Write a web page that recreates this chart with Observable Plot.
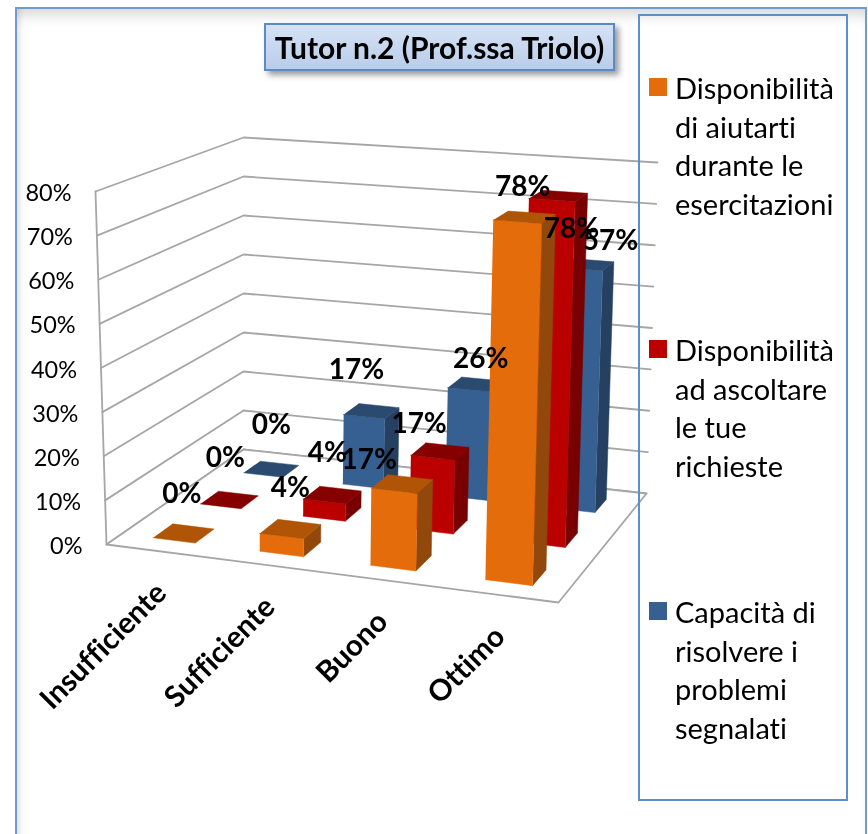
<!DOCTYPE html>
<html>
<head>
<meta charset="utf-8">
<script src="https://cdn.jsdelivr.net/npm/d3@7"></script>
<script src="https://cdn.jsdelivr.net/npm/@observablehq/plot@0.6"></script>
<style>
html,body{margin:0;padding:0;background:#fff;}
#page{position:relative;width:868px;height:834px;overflow:hidden;font-family:Lato,sans-serif;font-variant-ligatures:none;filter:blur(.4px);}
#frame{position:absolute;left:15px;top:7px;width:852px;height:860px;border:2px solid #6f9bd0;box-sizing:border-box;
  box-shadow:inset 0 14px 14px -8px rgba(0,0,0,.16),inset 7px 0 7px -5px rgba(0,0,0,.14);}
#chart{position:absolute;left:0;top:0;}
#chart text{font-variant-ligatures:none;}
#legendbox{position:absolute;left:638px;top:14px;width:210px;height:787px;border:2px solid #5f8fca;box-sizing:border-box;}
#title{position:absolute;left:264px;top:23px;width:351px;height:48px;box-sizing:border-box;border:2px solid #5b8bc7;
  background:linear-gradient(#d6e2f4,#b9cdea);box-shadow:4px 4px 6px rgba(0,0,0,.4);
  font-weight:700;font-size:30px;line-height:44px;text-align:center;color:#000;white-space:nowrap;}
.sw{position:absolute;left:649px;width:18px;height:18px;}
.lg{position:absolute;left:675px;font-size:29px;line-height:38.7px;color:#000;white-space:pre;}
</style>
</head>
<body>
<div id="page">
  <div id="frame"></div>
  <div id="chart"></div>
  <div id="legendbox"></div>
  <div id="title">Tutor n.2 (Prof.ssa Triolo)</div>
  <div id="legend"></div>
</div>
<script>
const categories = ["Insufficiente", "Sufficiente", "Buono", "Ottimo"];
const seriesNames = [
  "Disponibilità di aiutarti durante le esercitazioni",
  "Disponibilità ad ascoltare le tue richieste",
  "Capacità di risolvere i problemi segnalati"
];
const legendLines = [
  ["Disponibilità", "di aiutarti", "durante le", "esercitazioni"],
  ["Disponibilità", "ad ascoltare", "le tue", "richieste"],
  ["Capacità di", "risolvere i", "problemi", "segnalati"]
];
const aiutarti = [0, 4, 17, 78];
const ascoltare = [0, 4, 17, 78];
const risolvere = [0, 17, 26, 57];
const seriesValues = [aiutarti, ascoltare, risolvere];
const ticks = [0, 10, 20, 30, 40, 50, 60, 70, 80];

// styling
const faceColors = [
  {front: "#e46c0a", top: "#b05506", side: "#92480a"},
  {front: "#bb0000", top: "#870000", side: "#780000"},
  {front: "#376092", top: "#2a4a70", side: "#254061"}
];
// label nudges from each bar's top centre, [series][category]
const labelNudge = [
  [[-2,-39],[0,-41],[-33,-24],[-2,-30]],
  [[-4,-42],[-5,-42],[-21,-27],[13,33]],
  [[0,-44],[-15,-41],[5,-25],[24,-23]]
];

// scene box: floor and 80% plane corners (front-left, front-right, back-right, back-left)
const floorQuad = [[106,544],[558,602],[646,493],[243,449]];
const topQuad = [[95,191],[568,223],[657,162],[243,137]];
function homography([p0,p1,p2,p3]){
  const dx1=p1[0]-p2[0],dx2=p3[0]-p2[0],sx=p0[0]-p1[0]+p2[0]-p3[0];
  const dy1=p1[1]-p2[1],dy2=p3[1]-p2[1],sy=p0[1]-p1[1]+p2[1]-p3[1];
  const det=dx1*dy2-dx2*dy1;
  const g=(sx*dy2-dx2*sy)/det,h=(dx1*sy-sx*dy1)/det;
  const a=p1[0]-p0[0]+g*p1[0],b=p3[0]-p0[0]+h*p3[0],c=p0[0];
  const d=p1[1]-p0[1]+g*p1[1],e=p3[1]-p0[1]+h*p3[1],f=p0[1];
  return (u,v)=>{const w=g*u+h*v+1;return [(a*u+b*v+c)/w,(d*u+e*v+f)/w];};
}
const H0=homography(floorQuad),H1=homography(topQuad);
function project(u,v,val){
  const t=val/80,a=H0(u,v),b=H1(u,v);
  return [a[0]+(b[0]-a[0])*t,a[1]+(b[1]-a[1])*t];
}

const nC=categories.length,nS=seriesNames.length;
const faces=[],labels=[];
// back row first, left to right
for(let s=nS-1;s>=0;s--){
  for(let c=0;c<nC;c++){
    const val=seriesValues[s][c];
    const u0=(c+.3)/nC,u1=(c+.7)/nC,v0=(s+.3)/nS,v1=(s+.7)/nS;
    const col=faceColors[s];
    const add=(name,fill,pts)=>pts.forEach(p=>{
      const q=project(...p);
      faces.push({id:`${s}-${c}-${name}`,fill,x:q[0],y:q[1]});
    });
    if(val>0){
      add("side",col.side,[[u1,v0,0],[u1,v1,0],[u1,v1,val],[u1,v0,val]]);
      add("front",col.front,[[u0,v0,0],[u1,v0,0],[u1,v0,val],[u0,v0,val]]);
    }
    add("top",col.top,[[u0,v0,val],[u1,v0,val],[u1,v1,val],[u0,v1,val]]);
    const ctr=project((u0+u1)/2,(v0+v1)/2,val),n=labelNudge[s][c];
    labels.push({text:val+"%",x:ctr[0]+n[0],y:ctr[1]+n[1]});
  }
}

// walls and floor
const gridRows=[];
ticks.forEach(t=>{
  [[0,0],[0,1],[1,1]].forEach(([u,v])=>{
    const q=project(u,v,t);gridRows.push({t,x:q[0],y:q[1]});
  });
});
const floorPts=[[0,0],[1,0],[1,1],[0,1],[0,0]].map(([u,v])=>{const q=project(u,v,0);return {x:q[0],y:q[1]};});
const wallEdge=[0,80].map(t=>{const q=project(0,0,t);return {x:q[0],y:q[1]};});
const tickLabels=ticks.map(t=>{const q=project(0,0,t);return {text:t+"%",x:q[0]-24,y:q[1]+2};});
const catLabels=categories.map((name,i)=>{const q=project((i+.5)/nC,0,0);return {text:name,x:q[0]+2,y:q[1]+37};});

const grid="#a6a6a6";
const plot=Plot.plot({
  width:868,height:834,margin:0,
  style:{background:"transparent",fontFamily:"Lato,sans-serif",color:"#000"},
  x:{domain:[0,868],range:[0,868],axis:null},
  y:{domain:[0,834],range:[0,834],axis:null},
  color:{type:"identity"},
  marks:[
    Plot.line(gridRows,{x:"x",y:"y",z:"t",stroke:grid,strokeWidth:1.8}),
    Plot.line(floorPts,{x:"x",y:"y",stroke:grid,strokeWidth:1.8,fill:"#fff"}),
    Plot.line(wallEdge,{x:"x",y:"y",stroke:grid,strokeWidth:1.8}),
    Plot.line(faces,{x:"x",y:"y",z:"id",fill:"fill",stroke:"fill",strokeWidth:.5}),
    Plot.text(tickLabels,{x:"x",y:"y",text:"text",textAnchor:"end",fontSize:23.5,fill:"#000"}),
    Plot.text(catLabels,{x:"x",y:"y",text:"text",textAnchor:"end",rotate:-45,fontSize:29.5,fontWeight:700,fill:"#000"}),
    Plot.text(labels,{x:"x",y:"y",text:"text",fontSize:28,fontWeight:700,fill:"#000"})
  ]
});
document.getElementById("chart").appendChild(plot);

const lg=document.getElementById("legend");
const blockTop=[69,331,593];
legendLines.forEach((lines,s)=>{
  const sw=document.createElement("div");
  sw.className="sw";sw.style.top=(blockTop[s]+9)+"px";sw.style.background=faceColors[s].front;
  lg.appendChild(sw);
  const t=document.createElement("div");
  t.className="lg";t.style.top=blockTop[s]+"px";t.textContent=lines.join("\n");
  lg.appendChild(t);
});
</script>
</body>
</html>
